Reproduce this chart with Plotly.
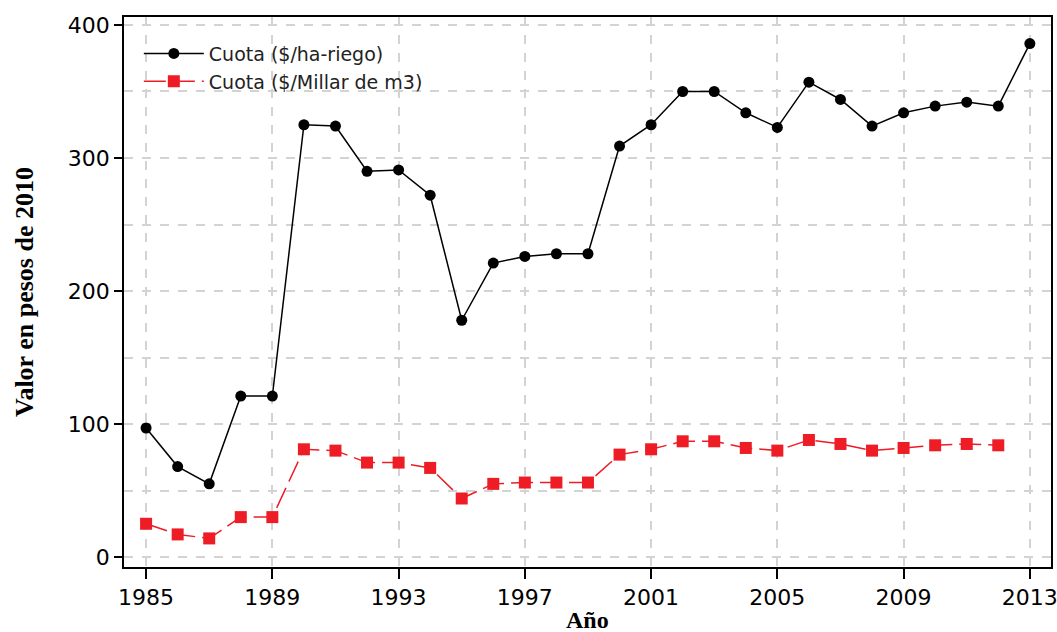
import plotly.graph_objects as go

# Años y cuotas (pesos de 2010)
anios = list(range(1985, 2014))
cuota_ha = [97, 68, 55, 121, 121, 325, 324, 290, 291, 272, 178, 221, 226, 228, 228,
            309, 325, 350, 350, 334, 323, 357, 344, 324, 334, 339, 342, 339, 386]
anios_m3 = list(range(1985, 2013))
cuota_m3 = [25, 17, 14, 30, 30, 81, 80, 71, 71, 67, 44, 55, 56, 56, 56,
            77, 81, 87, 87, 82, 80, 88, 85, 80, 82, 84, 85, 84]

fig = go.Figure()
fig.add_trace(go.Scatter(x=anios, y=cuota_ha, mode="lines+markers",
                         name="Cuota ($/ha-riego)",
                         line=dict(color="black", width=1.5),
                         marker=dict(symbol="circle", size=11, color="black")))
fig.add_trace(go.Scatter(x=anios_m3, y=cuota_m3, mode="lines+markers",
                         name="Cuota ($/Millar de m3)",
                         line=dict(color="#ee1c25", width=1.5, dash="22px,7px"),
                         marker=dict(symbol="square", size=12, color="#ee1c25")))

axis_font = dict(family="DejaVu Sans", size=22, color="black")
title_font = dict(family="Liberation Serif", color="black")
grid = dict(gridcolor="#d3d3d3", griddash="dash", gridwidth=1.5)

fig.update_xaxes(range=[1984.3, 2013.67], tick0=1985, dtick=4,
                 showline=True, linecolor="black", linewidth=1.8, mirror=True,
                 ticks="outside", ticklen=10, tickcolor="black", tickwidth=1.5,
                 showgrid=True, **grid, zeroline=False, tickfont=axis_font,
                 ticklabeloverflow="allow", automargin=False)
fig.update_yaxes(range=[-7.5, 406], tick0=0, dtick=100,
                 showline=True, linecolor="black", linewidth=1.8, mirror=True,
                 ticks="outside", ticklen=8, tickcolor="black", tickwidth=1.5,
                 showgrid=True, **grid,
                 minor=dict(dtick=50, showgrid=True, **grid),
                 zeroline=False, tickfont=axis_font, automargin=False)

fig.add_annotation(text="<b>Valor en pesos de 2010</b>", textangle=-90,
                   xref="paper", yref="paper", x=0, y=0.5, xshift=-100,
                   xanchor="center", yanchor="middle", showarrow=False,
                   font=dict(size=26, **title_font))
fig.add_annotation(text="<b>Año</b>", xref="paper", yref="paper", x=0.5, y=0,
                   yshift=-68, xanchor="center", yanchor="bottom", showarrow=False,
                   font=dict(size=24, **title_font))

fig.update_layout(width=1057, height=632,
                  margin=dict(l=124, r=6, t=17, b=65),
                  plot_bgcolor="white", paper_bgcolor="white",
                  showlegend=True,
                  legend=dict(x=0.016, y=0.968, xanchor="left", yanchor="top",
                              itemwidth=60, bgcolor="rgba(0,0,0,0)",
                              font=dict(family="DejaVu Sans", size=19, color="#222")))

# page body has an 8px default margin; remove it so the figure fills the window
fig.write_html("out.html", config={"displayModeBar": False},
               post_script="document.body.style.margin='0';")
